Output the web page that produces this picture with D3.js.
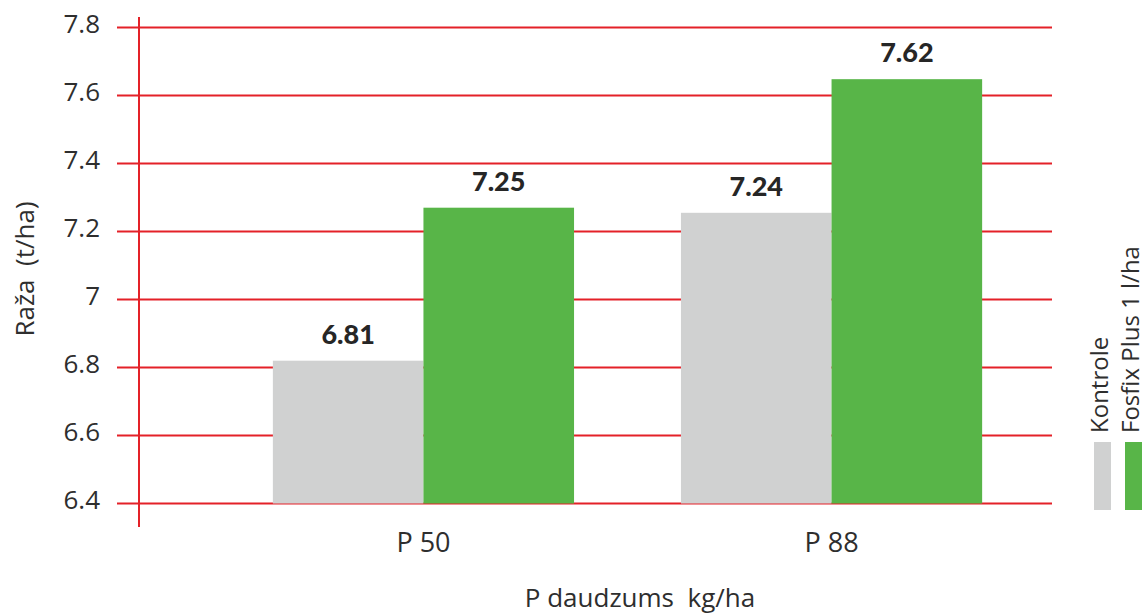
<!DOCTYPE html>
<html>
<head>
<meta charset="utf-8">
<script src="https://cdn.jsdelivr.net/npm/d3@7"></script>
<style>
  html, body { margin: 0; padding: 0; background: #fff; }
  svg { display: block; }
  text { font-family: "Open Sans", Lato, sans-serif; fill: #2e2e2e; font-weight: 500; white-space: pre; }
</style>
</head>
<body>
<svg id="chart" width="1146" height="615"></svg>
<script>
// Data
const categories = ["P 50", "P 88"];
const seriesNames = ["Kontrole", "Fosfix Plus 1 l/ha"];
const kontroleValues = [6.82, 7.255];
const fosfixValues = [7.27, 7.648];
const kontroleLabels = ["6.81", "7.24"];
const fosfixLabels = ["7.25", "7.62"];
const yTicks = [6.4, 6.6, 6.8, 7, 7.2, 7.4, 7.6, 7.8];
const yTickLabels = ["6.4", "6.6", "6.8", "7", "7.2", "7.4", "7.6", "7.8"];
const seriesColors = ["#d0d1d1", "#58b548"];
const yTitle = "Raža  (t/ha)";
const xTitle = "P daudzums  kg/ha";

const svg = d3.select("#chart");
const red = "#e42128";

const y = d3.scaleLinear().domain([6.4, 7.8]).range([503.5, 27.5]);
const x0 = d3.scaleBand().domain(categories).range([139, 1116]).paddingInner(0.262).paddingOuter(0.328);
const x1 = d3.scaleBand().domain(seriesNames).range([0, x0.bandwidth()]);

// Gridlines
svg.append("g").selectAll("line").data(yTicks).join("line")
  .attr("x1", 117).attr("x2", 1052)
  .attr("y1", d => y(d)).attr("y2", d => y(d))
  .attr("stroke", red).attr("stroke-width", 2);

// Y tick labels
svg.append("g").selectAll("text").data(yTicks).join("text")
  .attr("x", 100).attr("y", d => y(d) + 5.5)
  .attr("text-anchor", "end")
  .attr("font-size", 26)
  .text((d, i) => yTickLabels[i]);

// Bars
const rows = categories.map((c, i) => ({
  cat: c,
  vals: [
    { s: seriesNames[0], v: kontroleValues[i], label: kontroleLabels[i], color: seriesColors[0] },
    { s: seriesNames[1], v: fosfixValues[i], label: fosfixLabels[i], color: seriesColors[1] }
  ]
}));

const groups = svg.append("g").selectAll("g").data(rows).join("g")
  .attr("transform", d => `translate(${x0(d.cat)},0)`);

groups.selectAll("rect").data(d => d.vals).join("rect")
  .attr("x", d => x1(d.s))
  .attr("width", x1.bandwidth())
  .attr("y", d => y(d.v))
  .attr("height", d => y(6.4) - y(d.v))
  .attr("fill", d => d.color);

groups.selectAll("text.val").data(d => d.vals).join("text")
  .attr("class", "val")
  .attr("x", d => x1(d.s) + x1.bandwidth() / 2)
  .attr("y", d => y(d.v) - 17)
  .attr("text-anchor", "middle")
  .attr("font-size", 27)
  .style("font-family", "Lato, 'Open Sans', sans-serif")
  .style("font-weight", 900)
  .style("fill", "#262626")
  .text(d => d.label);

// Vertical axis line
svg.append("line")
  .attr("x1", 139).attr("x2", 139).attr("y1", 17).attr("y2", 527)
  .attr("stroke", red).attr("stroke-width", 2);

// X category labels
svg.append("g").selectAll("text").data(categories).join("text")
  .attr("x", d => x0(d) + x0.bandwidth() / 2)
  .attr("y", 552)
  .attr("text-anchor", "middle")
  .attr("font-size", 27)
  .text(d => d);

// Axis titles
svg.append("text")
  .attr("transform", "translate(34,269) rotate(-90)")
  .attr("text-anchor", "middle")
  .attr("font-size", 26)
  .text(yTitle);

svg.append("text")
  .attr("x", 640).attr("y", 607)
  .attr("text-anchor", "middle")
  .attr("font-size", 26)
  .text(xTitle);

// Legend
const legendX = [1094, 1125];
seriesNames.forEach((name, i) => {
  svg.append("rect")
    .attr("x", legendX[i]).attr("y", 442)
    .attr("width", 17).attr("height", 68)
    .attr("fill", seriesColors[i]);
  svg.append("text")
    .attr("transform", `translate(${legendX[i] + 14},433) rotate(-90)`)
    .attr("text-anchor", "start")
    .attr("font-size", 24)
    .text(name);
});
</script>
</body>
</html>
